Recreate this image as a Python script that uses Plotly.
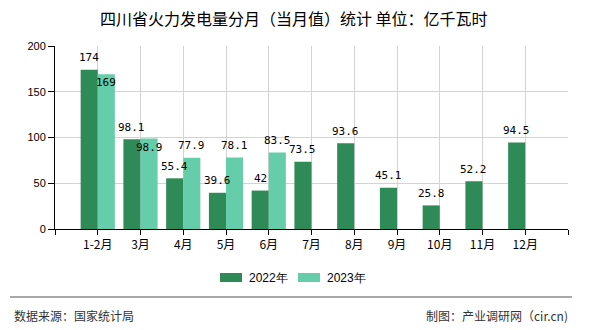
import plotly.graph_objects as go

categories = ["1-2月", "3月", "4月", "5月", "6月", "7月", "8月", "9月", "10月", "11月", "12月"]
values_2022 = [174, 98.1, 55.4, 39.6, 42, 73.5, 93.6, 45.1, 25.8, 52.2, 94.5]
values_2023 = [169, 98.9, 77.9, 78.1, 83.5, None, None, None, None, None, None]
series_names = ["2022年", "2023年"]
colors = ["#2e8b57", "#66cdaa"]
title_text = "四川省火力发电量分月（当月值）统计 单位：亿千瓦时"
source_text = "数据来源：国家统计局"
maker_text = "制图：产业调研网（cir.cn)"

W, H = 590, 330
ML, MR, MT, MB = 55, 22, 46, 101
PW, PH = W - ML - MR, H - MT - MB

def px_x(p):
    return (p - ML) / PW

def px_y(p):
    return (H - MB - p) / PH

CJK = "Noto Sans CJK SC"
MONO = "DejaVu Sans Mono"

xs = list(range(len(categories)))
fig = go.Figure()
for name, vals, col in zip(series_names, [values_2022, values_2023], colors):
    fig.add_trace(go.Bar(x=xs, y=vals, name=name, marker=dict(color=col, line=dict(width=0)),
                         showlegend=False, hoverinfo="skip"))

bw = 0.4
annotations = []
for i, (a, b) in enumerate(zip(values_2022, values_2023)):
    if a is not None:
        annotations.append(dict(x=i - bw / 2, y=a, xref="x", yref="y", text=f"{a:g}", showarrow=False,
                                yanchor="middle", yshift=12, font=dict(family=MONO, size=11, color="#000")))
    if b is not None:
        close = a is not None and abs(a - b) < 10
        annotations.append(dict(x=i + bw / 2, y=b, xref="x", yref="y", text=f"{b:g}", showarrow=False,
                                yanchor="middle", yshift=-8.5 if close else 12,
                                font=dict(family=MONO, size=11, color="#000")))

# title
annotations.append(dict(x=px_x(294), y=px_y(18), xref="paper", yref="paper", text=title_text, showarrow=False,
                        xanchor="center", yanchor="middle", font=dict(family=CJK, size=16, color="#000")))
# manual legend
shapes = []
leg_items = [(220, 247), (298, 325)]
for (sx, tx), name, col in zip(leg_items, series_names, colors):
    shapes.append(dict(type="rect", xref="paper", yref="paper", x0=px_x(sx), x1=px_x(sx + 22),
                       y0=px_y(282), y1=px_y(273), fillcolor=col, line=dict(width=0)))
    annotations.append(dict(x=px_x(tx), y=px_y(277.5), xref="paper", yref="paper", text=name, showarrow=False,
                            xanchor="left", yanchor="middle", font=dict(family="Liberation Sans", size=12, color="#000")))
# footer
shapes.append(dict(type="line", xref="paper", yref="paper", x0=px_x(10), x1=px_x(572), y0=px_y(297), y1=px_y(297),
                   line=dict(color="#8c8c8c", width=1.5)))
annotations.append(dict(x=px_x(12), y=px_y(315), xref="paper", yref="paper", text=source_text, showarrow=False,
                        xanchor="left", yanchor="middle", font=dict(family=CJK, size=12, color="#333")))
annotations.append(dict(x=px_x(570), y=px_y(315), xref="paper", yref="paper", text=maker_text, showarrow=False,
                        xanchor="right", yanchor="middle", font=dict(family=CJK, size=12, color="#333")))

tickvals = list(range(-1, len(categories) + 1))
ticktext = [""] + categories + [""]

fig.update_layout(
    width=W, height=H, autosize=False,
    margin=dict(l=ML, r=MR, t=MT, b=MB, pad=0),
    paper_bgcolor="white", plot_bgcolor="white",
    barmode="group", bargap=0.2, bargroupgap=0,
    annotations=annotations, shapes=shapes,
    xaxis=dict(range=[-1, len(categories)], tickmode="array", tickvals=tickvals, ticktext=ticktext,
               showgrid=True, gridcolor="#d3d3d3", gridwidth=1, zeroline=False,
               showline=True, linecolor="#000", linewidth=1, ticks="outside", ticklen=5, tickcolor="#000",
               tickfont=dict(family=CJK, size=12, color="#000"), fixedrange=True),
    yaxis=dict(range=[0, 200], tickmode="array", tickvals=[0, 50, 100, 150, 200],
               showgrid=True, gridcolor="#d3d3d3", gridwidth=1, zeroline=False,
               showline=True, linecolor="#000", linewidth=1, ticks="outside", ticklen=6, tickcolor="#000",
               tickfont=dict(family="Liberation Sans", size=11, color="#000"), fixedrange=True),
)

fig.write_html("out.html", config={"displayModeBar": False})
